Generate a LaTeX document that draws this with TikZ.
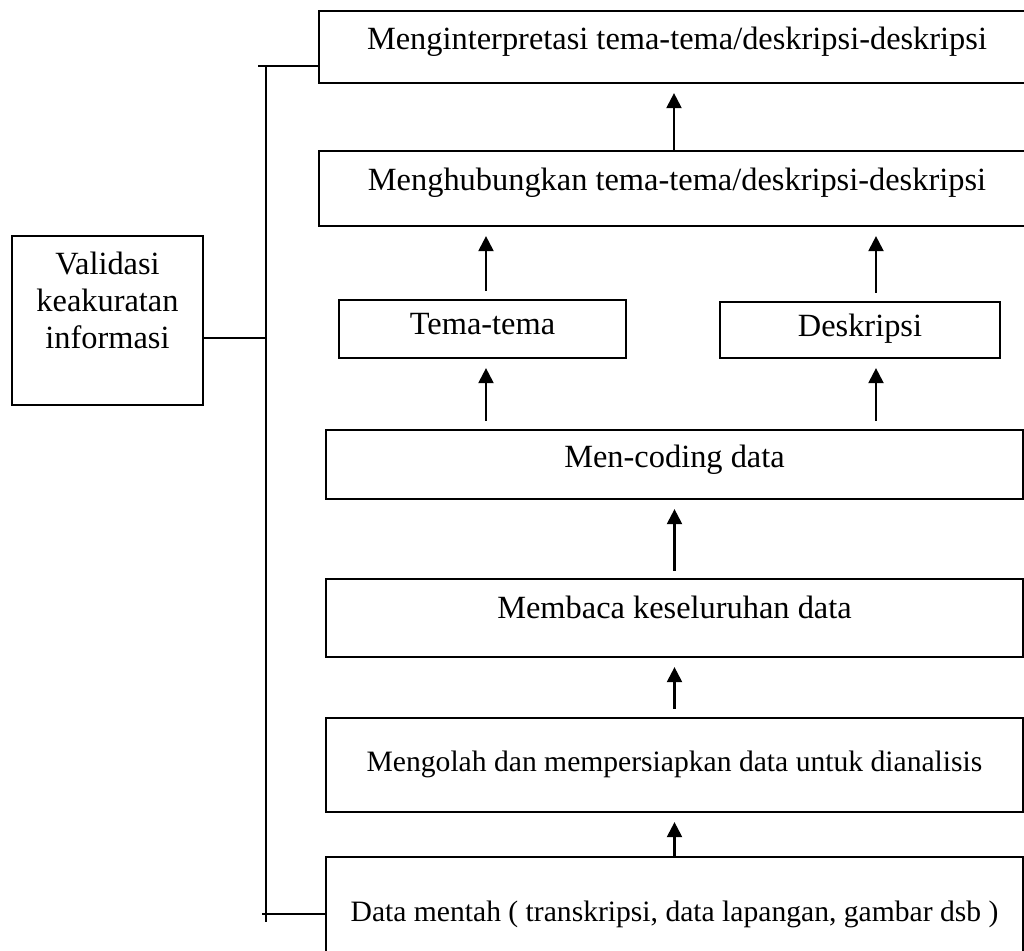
\documentclass[tikz,border=0pt]{standalone}
\usepackage{fontspec}
\setmainfont{Liberation Serif}
\usepackage{tikz}
\usetikzlibrary{arrows.meta}
\tikzstyle{box}  = [draw, line width=1.1pt, rectangle, inner sep=0pt, align=center]
\tikzstyle{arr}  = [draw, line width=1.1pt, -{Triangle[length=7.5pt, width=7.5pt]}, shorten >=4.5pt]
\tikzstyle{big}  = [font=\fontsize{16.2}{18.5}\selectfont]
\tikzstyle{small}= [font=\fontsize{14.8}{17}\selectfont]

\begin{document}
\begin{tikzpicture}[x=0.5pt, y=-0.5pt]
\useasboundingbox (0,0) rectangle (1024,950);

% nodes
\node [box, big,   minimum width=358pt, minimum height=36pt,   text depth=9pt]  at ( 677  ,  47  ) (interp)  {Menginterpretasi tema-tema/deskripsi-deskripsi};
\node [box, big,   minimum width=358pt, minimum height=37.5pt, text depth=9pt]  at ( 677  , 188.5) (hubung)  {Menghubungkan tema-tema/deskripsi-deskripsi};
\node [box, big,   minimum width=143.5pt, minimum height=29pt, text depth=5pt]  at ( 482.5, 329  ) (tema)    {Tema-tema};
\node [box, big,   minimum width=140pt, minimum height=28pt,   text depth=5pt]  at ( 860  , 330  ) (desk)    {Deskripsi};
\node [box, big,   minimum width=348.5pt, minimum height=34.5pt, text depth=8pt] at ( 674.5, 464.5) (coding)  {Men-coding data};
\node [box, big,   minimum width=348.5pt, minimum height=39pt, text depth=11pt] at ( 674.5, 618  ) (membaca) {Membaca keseluruhan data};
\node [box, small, minimum width=348.5pt, minimum height=47pt, text depth=4pt]  at ( 674.5, 765  ) (olah)    {Mengolah dan mempersiapkan data untuk dianalisis};
\node [box, small, minimum width=348.5pt, minimum height=50pt, text height=17pt, text depth=3pt] at ( 674.5, 907  ) (mentah)  {Data mentah ( transkripsi, data lapangan, gambar dsb )};
\node [box, big,   minimum width=95.5pt, minimum height=84.5pt, text depth=20pt] at ( 107.5, 320.5) (valid)  {Validasi\\keakuratan\\informasi};

% bracket
\coordinate (btop) at (258, 66);
\coordinate (bbot) at (262, 914);
\coordinate (bar)  at (266, 338);
\coordinate (dcol) at (876, 0);
\coordinate (tcol) at (486, 0);
\draw [line width=1.1pt] (btop) -- (interp.west |- btop);
\draw [line width=1.1pt] (bbot) -- (mentah.west |- bbot);
\draw [line width=1.1pt] (bar |- btop) -- (bar |- 0,922);
\draw [line width=1.1pt] (valid.east |- bar) -- (bar);

%  arrows
\path [arr] (hubung.north -| 674,0) -- (interp.south -| 674,0);
\path [arr, shorten <=4pt] (tema.north -| tcol) -- (hubung.south -| tcol);
\path [arr, shorten <=4pt] (desk.north -| dcol) -- (hubung.south -| dcol);
\path [arr, shorten <=4pt] (coding.north -| tcol) -- (tema.south -| tcol);
\path [arr, shorten <=4pt] (coding.north -| dcol) -- (desk.south -| dcol);
\path [arr, shorten <=3.5pt] (membaca.north) -- (coding.south);
\path [arr, shorten <=4pt] (olah.north) -- (membaca.south);
\path [arr] (mentah.north) -- (olah.south);

\end{tikzpicture}
\end{document}
